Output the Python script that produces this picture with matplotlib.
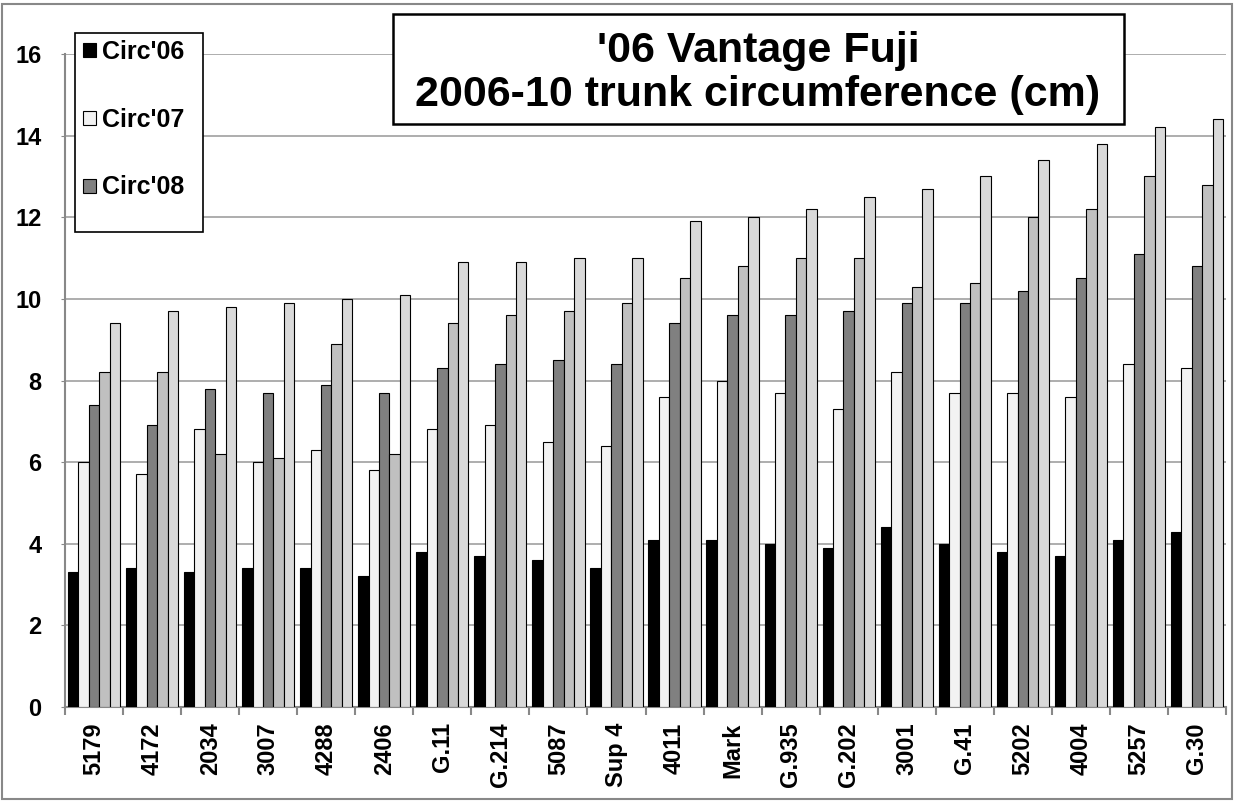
import matplotlib.pyplot as plt
import numpy as np
from matplotlib.patches import Rectangle

plt.rcParams['font.family'] = ['Liberation Sans', 'DejaVu Sans']
plt.rcParams['font.weight'] = 'bold'

# Données
porte_greffes = ['5179', '4172', '2034', '3007', '4288', '2406', 'G.11', 'G.214', '5087', 'Sup 4',
                 '4011', 'Mark', 'G.935', 'G.202', '3001', 'G.41', '5202', '4004', '5257', 'G.30']
circ06 = [3.3, 3.4, 3.3, 3.4, 3.4, 3.2, 3.8, 3.7, 3.6, 3.4, 4.1, 4.1, 4.0, 3.9, 4.4, 4.0, 3.8, 3.7, 4.1, 4.3]
circ07 = [6.0, 5.7, 6.8, 6.0, 6.3, 5.8, 6.8, 6.9, 6.5, 6.4, 7.6, 8.0, 7.7, 7.3, 8.2, 7.7, 7.7, 7.6, 8.4, 8.3]
circ08 = [7.4, 6.9, 7.8, 7.7, 7.9, 7.7, 8.3, 8.4, 8.5, 8.4, 9.4, 9.6, 9.6, 9.7, 9.9, 9.9, 10.2, 10.5, 11.1, 10.8]
circ09 = [8.2, 8.2, 6.2, 6.1, 8.9, 6.2, 9.4, 9.6, 9.7, 9.9, 10.5, 10.8, 11.0, 11.0, 10.3, 10.4, 12.0, 12.2, 13.0, 12.8]
circ10 = [9.4, 9.7, 9.8, 9.9, 10.0, 10.1, 10.9, 10.9, 11.0, 11.0, 11.9, 12.0, 12.2, 12.5, 12.7, 13.0, 13.4, 13.8, 14.2, 14.4]
series = [circ06, circ07, circ08, circ09, circ10]
noms = ["Circ'06", "Circ'07", "Circ'08", "Circ'09", "Circ'10"]
couleurs = ['#000000', '#f2f2f2', '#808080', '#c0c0c0', '#d9d9d9']

W, H = 1234, 801
fig = plt.figure(figsize=(W / 100, H / 100), dpi=100)
ax = fig.add_axes([65 / W, 1 - 707 / H, 1161 / W, 653 / H])


def boite(x0, y0, x1, y1, **kw):
    # rectangle en pixels (origine en haut à gauche)
    r = Rectangle((x0 / W, 1 - y1 / H), (x1 - x0) / W, (y1 - y0) / H,
                  transform=fig.transFigure, **kw)
    fig.patches.append(r)


# Cadre extérieur gris
boite(2, 4, 1232, 799, fill=False, edgecolor='#888888', linewidth=1.5)

x = np.arange(len(porte_greffes))
largeur = 0.18
barres = []
for i, (vals, nom, c) in enumerate(zip(series, noms, couleurs)):
    b = ax.bar(x + (i - 2) * largeur, vals, largeur, color=c, edgecolor='#000000',
               linewidth=0.8, label=nom, zorder=3)
    barres.append(b)

ax.set_xlim(-0.5, len(porte_greffes) - 0.5)
ax.set_ylim(0, 16)
ax.set_yticks(range(0, 17, 2))
ax.grid(axis='y', color='#a0a0a0', linewidth=1.2, zorder=0)

# Étiquettes au centre, graduations entre les groupes
ax.set_xticks(x)
ax.set_xticklabels(porte_greffes, rotation=90, fontsize=17, fontweight='bold')
ax.set_xticks(np.arange(-0.5, len(porte_greffes), 1), minor=True)
ax.tick_params(axis='x', which='major', length=0, pad=11)
ax.tick_params(axis='x', which='minor', length=6, width=1.5, color='#888888')
ax.tick_params(axis='y', length=3, color='#888888', labelsize=17, pad=14)
for lab in ax.get_yticklabels():
    lab.set_fontweight('bold')

for s in ['top', 'right']:
    ax.spines[s].set_visible(False)
for s in ['left', 'bottom']:
    ax.spines[s].set_color('#888888')
    ax.spines[s].set_linewidth(1.5)

# Légende tronquée (3 entrées visibles) dans un cadre blanc
boite(75, 33, 203, 232, facecolor='white', edgecolor='#000000', linewidth=1.2, zorder=4)
leg = fig.legend(barres[:3], noms[:3], loc='upper left', bbox_to_anchor=(83 / W, 1 - 40 / H),
                 fontsize=18, frameon=False,
                 handlelength=0.5, handleheight=0.5, handletextpad=0.25,
                 labelspacing=1.75, borderpad=0, borderaxespad=0)
leg.set_zorder(5)

# Titre dans un cadre
boite(393, 14, 1124, 124, facecolor='white', edgecolor='#000000', linewidth=1.8, zorder=4)
fig.text(758 / W, 1 - 73 / H, "'06 Vantage Fuji\n2006-10 trunk circumference (cm)",
         ha='center', va='center', fontsize=31, fontweight='bold', linespacing=1.1,
         zorder=5)

plt.savefig('out.png', dpi=100)
